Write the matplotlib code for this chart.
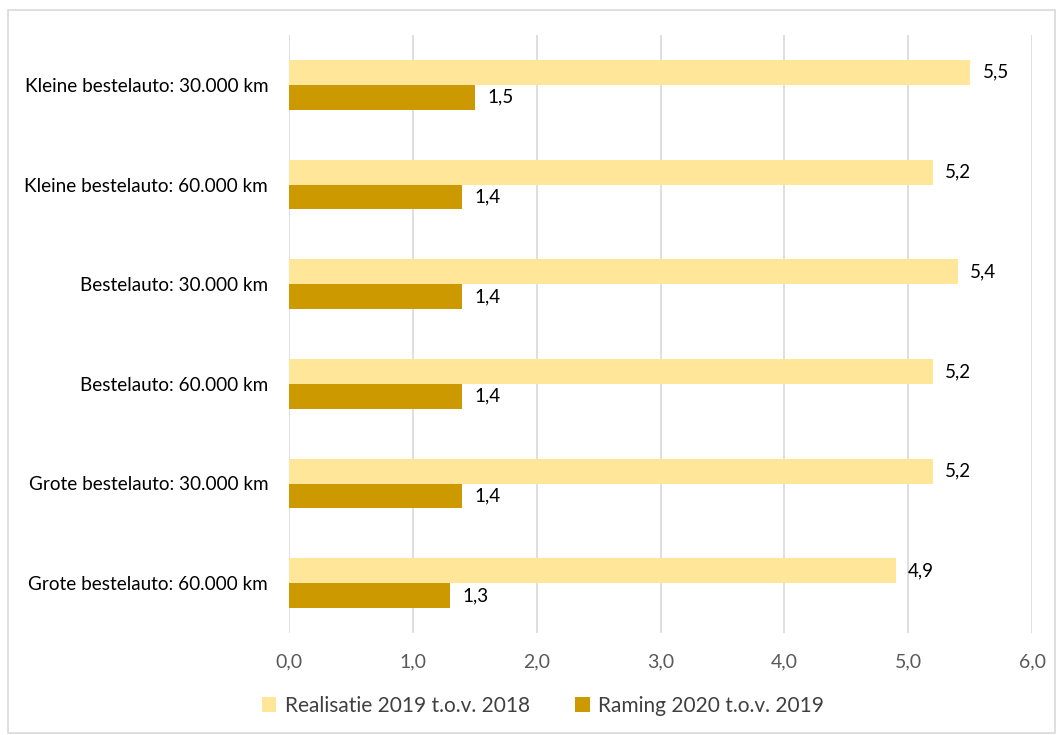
import numpy as np
import matplotlib.pyplot as plt
from matplotlib.patches import Rectangle

plt.rcParams['font.family'] = ['Lato', 'DejaVu Sans']

categorieen = ["Kleine bestelauto: 30.000 km", "Kleine bestelauto: 60.000 km",
               "Bestelauto: 30.000 km", "Bestelauto: 60.000 km",
               "Grote bestelauto: 30.000 km", "Grote bestelauto: 60.000 km"]
realisatie = [5.5, 5.2, 5.4, 5.2, 5.2, 4.9]
raming = [1.5, 1.4, 1.4, 1.4, 1.4, 1.3]
reeksen = ["Realisatie 2019 t.o.v. 2018", "Raming 2020 t.o.v. 2019"]
xticks = [0, 1, 2, 3, 4, 5, 6]

kleur_licht = "#FFE699"
kleur_donker = "#CC9900"

fig = plt.figure(figsize=(10.57, 7.35), dpi=100)
ax = fig.add_axes([289 / 1057, 1 - 633 / 735, (1032 - 289) / 1057, (633 - 35) / 735])

# rand om de hele figuur
fig.patches.append(Rectangle((8 / 1057, 2 / 735), 1047 / 1057, 723 / 735,
                             transform=fig.transFigure, fill=False,
                             edgecolor="#D9D9D9", linewidth=1.2))

y = np.arange(len(categorieen))
h = 0.25
b1 = ax.barh(y - h / 2, realisatie, height=h, color=kleur_licht, label=reeksen[0], zorder=3)
b2 = ax.barh(y + h / 2, raming, height=h, color=kleur_donker, label=reeksen[1], zorder=3)

for bars, vals in ((b1, realisatie), (b2, raming)):
    for bar, v in zip(bars, vals):
        ax.text(v + 0.1, bar.get_y() + bar.get_height() / 2, f"{v:.1f}".replace(".", ","),
                va="center", ha="left", fontsize=13.5, color="black")

ax.set_ylim(len(categorieen) - 0.5, -0.5)
ax.set_xlim(0, 6)
ax.set_yticks(y)
ax.set_yticklabels(categorieen, fontsize=13.6, color="black")
ax.set_xticks(xticks)
ax.set_xticklabels([f"{t:.1f}".replace(".", ",") for t in xticks], fontsize=14, color="#595959")
ax.tick_params(axis="both", length=0)
ax.tick_params(axis="x", pad=15)
ax.tick_params(axis="y", pad=15)
ax.grid(axis="x", color="#D9D9D9", linewidth=1.2, zorder=0)
for s in ax.spines.values():
    s.set_visible(False)

fig.legend(handles=[b1, b2], loc="center", bbox_to_anchor=(543 / 1057, 1 - 706 / 735),
           ncol=2, frameon=False, fontsize=15, handlelength=0.7, handleheight=0.7,
           columnspacing=2.2, handletextpad=0.4, labelcolor="#404040")

fig.savefig("out.png", dpi=100)
